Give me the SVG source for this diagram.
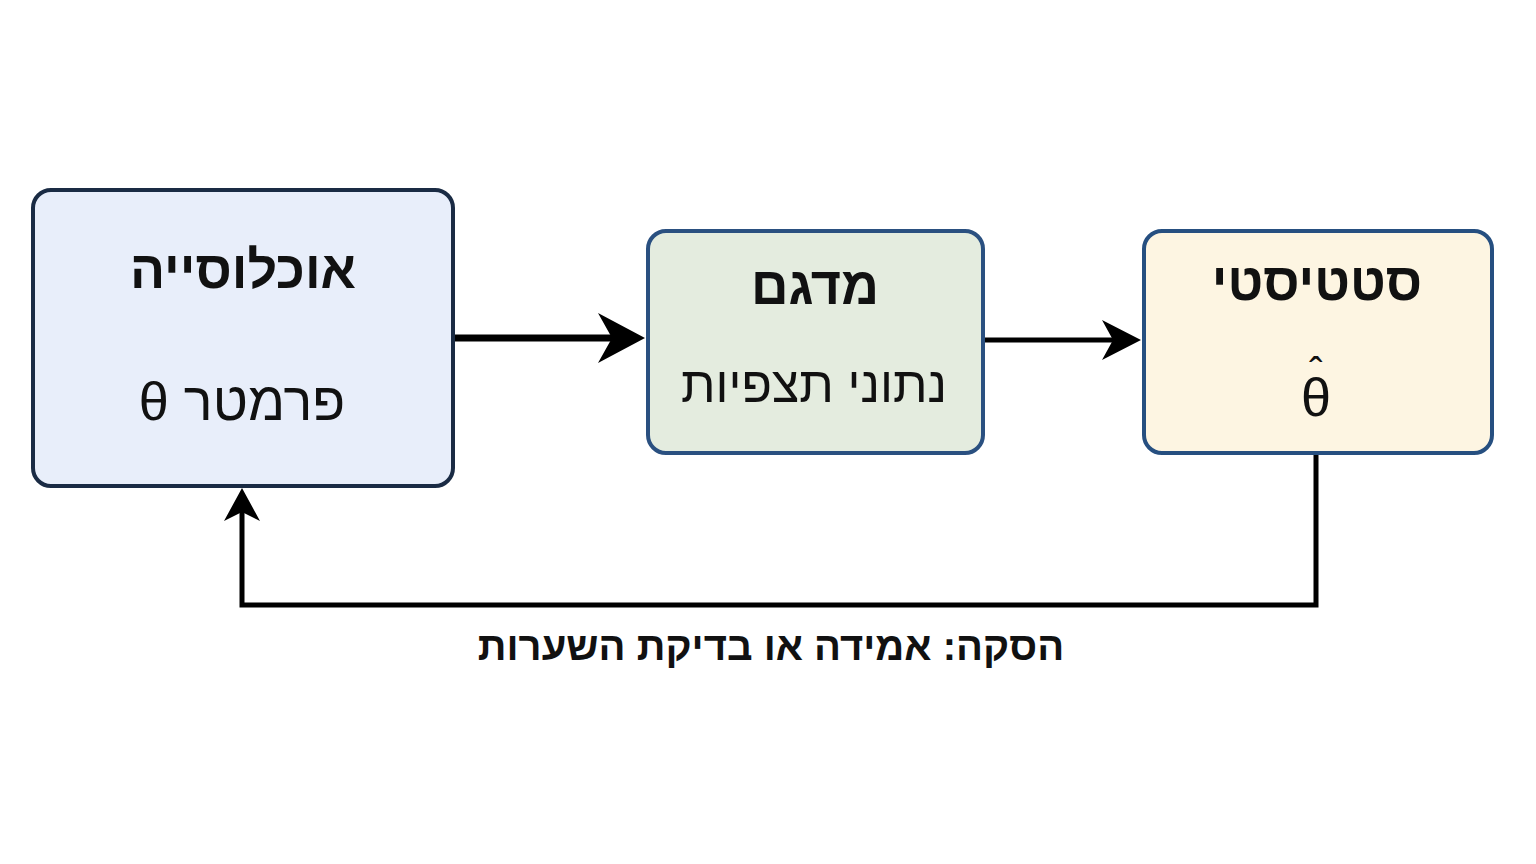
<svg xmlns="http://www.w3.org/2000/svg" width="1536" height="864" viewBox="0 0 1536 864">
<defs>
<style>
text{font-family:"Liberation Sans","Noto Sans",sans-serif;fill:#111;text-anchor:middle;direction:rtl}
.t{font-weight:bold;font-size:52px}
.s{font-size:50px}
.box{stroke-width:4}
.c{fill:none;stroke:#000;stroke-linejoin:miter}
</style>
</defs>
<rect width="1536" height="864" fill="#fff"/>
<g id="population">
<rect class="box" x="33" y="190" width="420" height="296" rx="18" fill="#e8eefa" stroke="#1a2b44"/>
<text class="t" x="243" y="288">אוכלוסייה</text>
<text class="s" x="242" y="420" style="font-size:54px">פרמטר θ</text>
</g>
<g id="sample">
<rect class="box" x="648" y="231" width="335" height="222" rx="18" fill="#e4ecdf" stroke="#2a5080"/>
<text class="t" x="815" y="304">מדגם</text>
<text class="s" x="814" y="402">נתוני תצפיות</text>
</g>
<g id="statistic">
<rect class="box" x="1144" y="231" width="348" height="222" rx="18" fill="#fdf5e2" stroke="#264f80"/>
<text class="t" x="1317" y="300">סטטיסטי</text>
<text x="1316" y="416" style="font-size:54px;direction:ltr">θ</text>
<text x="1316" y="386" style="font-size:40px;direction:ltr">ˆ</text>
</g>
<g id="connectors">
<line class="c" x1="455" y1="338" x2="615" y2="338" stroke-width="7"/>
<path d="M645,338 L598,313 L612,338 L598,363 z" fill="#000"/>
<line class="c" x1="985" y1="340" x2="1115" y2="340" stroke-width="5"/>
<path d="M1141,340 L1102,320 L1113,340 L1102,360 z" fill="#000"/>
<polyline class="c" points="1316,455 1316,605 242,605 242,510" stroke-width="5"/>
<path d="M242,488 L224,521 L242,512 L260,521 z" fill="#000"/>
<text x="771" y="660" style="font-weight:bold;font-size:40px">הסקה: אמידה או בדיקת השערות</text>
</g>
</svg>
